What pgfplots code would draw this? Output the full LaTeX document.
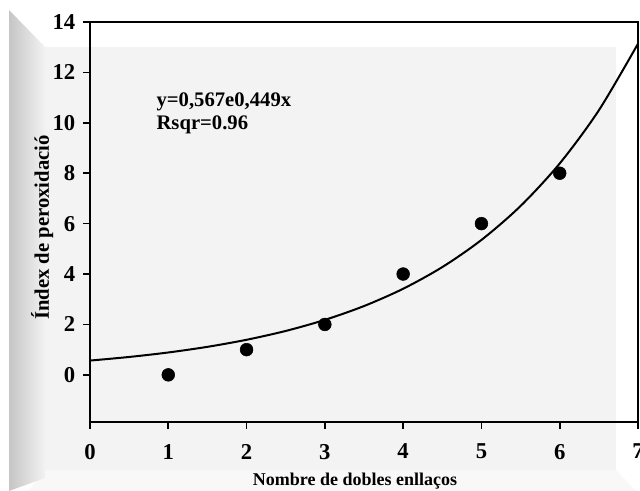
\documentclass[border=0pt]{standalone}
\usepackage{fontspec}
\setmainfont{Liberation Serif}
\usepackage{pgfplots}
\pgfplotsset{compat=1.18}

\definecolor{panel}{HTML}{F3F3F3}
\definecolor{bottomband}{HTML}{F8F8F8}

\begin{document}
\begin{tikzpicture}
\useasboundingbox (0,0) rectangle (480pt,368.25pt);
\clip (0,0) rectangle (480pt,368.25pt);
% bevelled frame behind the chart, drawn in pixel units (y downwards)
\begin{scope}[x=0.75pt,y=-0.75pt,shift={(0pt,368.25pt)}]
  \fill[white] (0,0) rectangle (640,491);
  \fill[panel] (45,47) -- (616,47) -- (616,470) -- (45,470) -- cycle;
  \fill[bottomband] (45,470) -- (616,470) -- (636,491) -- (28,491) -- cycle;
  \shade[left color=gray!45, right color=gray!10] (9,10) -- (45,47) -- (45,478) -- (9,491) -- cycle;
\end{scope}

\begin{axis}[
  at={(67.5pt,51.75pt)}, anchor=south west,
  scale only axis,
  width=411pt, height=300pt,
  xmin=0, xmax=7,
  ymin=-1.87, ymax=14,
  xtick={0,1,...,7},
  ytick={0,2,...,14},
  tick pos=left,
  tick align=outside,
  major tick length=5pt,
  tick style={line width=1.2pt, black},
  axis line style={line width=1.6pt},
  /pgf/number format/assume math mode=true,
  ticklabel style={font=\fontsize{17}{20}\selectfont\bfseries},
  xticklabel style={yshift=-8pt},
  yticklabel style={xshift=-2.5pt},
  xlabel={Nombre de dobles enllaços},
  ylabel={Índex de peroxidació},
  xlabel style={font=\fontsize{13.5}{16}\selectfont\bfseries,
    at={(axis description cs:0.4836,-0.16)}, anchor=base},
  ylabel style={font=\fontsize{15.5}{18}\selectfont\bfseries,
    at={(axis description cs:-0.075,0.486)}, anchor=base},
]

% exponential fit y = 0.567 e^{0.449x}, tabulated
\addplot[black, line width=1.5pt, smooth] coordinates {
  (0,0.567) (0.5,0.710) (1,0.888) (1.5,1.112) (2,1.392) (2.5,1.742)
  (3,2.181) (3.5,2.730) (4,3.416) (4.5,4.276) (5,5.353) (5.5,6.700)
  (6,8.387) (6.5,10.497) (7,13.139)
};

% measured points
\addplot[only marks, mark=*, mark size=4.8pt, black] coordinates {
  (1,0) (2,1) (3,2) (4,4) (5,6) (6,8)
};

\node[anchor=base west, font=\fontsize{15.5}{18}\selectfont\bfseries] at (axis cs:0.79,10.63) {y=0,567e0,449x};
\node[anchor=base west, font=\fontsize{15.5}{18}\selectfont\bfseries] at (axis cs:0.79,9.72) {Rsqr=0.96};

\end{axis}
\end{tikzpicture}
\end{document}
